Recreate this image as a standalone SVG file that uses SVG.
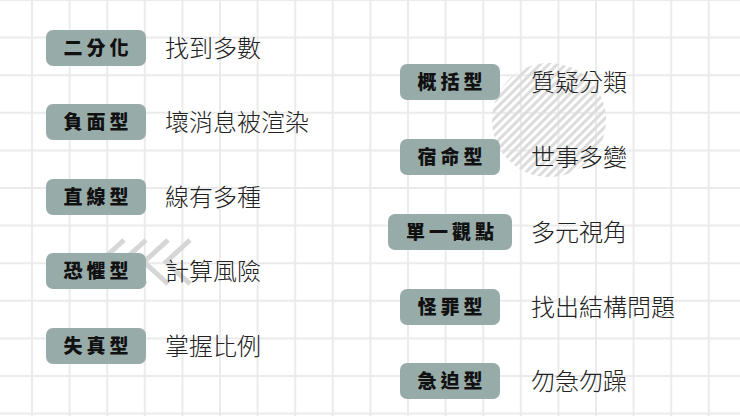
<svg xmlns="http://www.w3.org/2000/svg" width="740" height="416" viewBox="0 0 740 416">
<defs>
<style>
.b{fill:#97aba9}
.k{font-family:"Noto Sans CJK TC",sans-serif;font-weight:900;font-size:19px;fill:#111;text-anchor:middle;letter-spacing:4px}
.d{font-family:"Noto Sans CJK TC",sans-serif;font-weight:300;font-size:24px;fill:#222}
.g{stroke:#ebebeb;stroke-width:2}
</style>
<pattern id="h" width="6" height="6" patternUnits="userSpaceOnUse" patternTransform="rotate(-45)">
<rect width="6" height="3" fill="#dcdcdc"/>
</pattern>
</defs>
<rect width="740" height="416" fill="#fff"/>
<g id="grid" class="g">
<path d="M32 0V416M69.6 0V416M107.2 0V416M144.8 0V416M182.4 0V416M220 0V416M257.6 0V416M295.2 0V416M332.8 0V416M370.4 0V416M408 0V416M445.6 0V416M483.2 0V416M520.8 0V416M558.4 0V416M596 0V416M633.6 0V416M671.2 0V416M708.8 0V416"/>
<path d="M0 0H740M0 37.6H740M0 75.2H740M0 112.8H740M0 150.4H740M0 188H740M0 225.6H740M0 263.2H740M0 300.8H740M0 338.4H740M0 376H740M0 413.6H740"/>
</g>
<circle cx="549" cy="120" r="57" fill="url(#h)"/>
<g fill="none" stroke="#d6d6d6" stroke-width="5">
<path d="M124 240L100 262L124 284M146 240L122 262L146 284M168 240L144 262L168 284M190 240L166 262L190 284"/>
</g>
<g id="n1"><rect class="b" x="46" y="30" width="100" height="36" rx="7"/><text class="k" x="98" y="55">二分化</text><text class="d" x="165" y="57">找到多數</text></g>
<g id="n2"><rect class="b" x="46" y="104" width="100" height="36" rx="7"/><text class="k" x="98" y="129">負面型</text><text class="d" x="165" y="131">壞消息被渲染</text></g>
<g id="n3"><rect class="b" x="46" y="179" width="100" height="36" rx="7"/><text class="k" x="98" y="204">直線型</text><text class="d" x="165" y="206">線有多種</text></g>
<g id="n4"><rect class="b" x="46" y="253" width="100" height="36" rx="7"/><text class="k" x="98" y="278">恐懼型</text><text class="d" x="165" y="280">計算風險</text></g>
<g id="n5"><rect class="b" x="46" y="328" width="100" height="36" rx="7"/><text class="k" x="98" y="353">失真型</text><text class="d" x="165" y="355">掌握比例</text></g>
<g id="n6"><rect class="b" x="400" y="64" width="100" height="36" rx="7"/><text class="k" x="452" y="89">概括型</text><text class="d" x="531" y="91">質疑分類</text></g>
<g id="n7"><rect class="b" x="400" y="139" width="100" height="36" rx="7"/><text class="k" x="452" y="164">宿命型</text><text class="d" x="531" y="166">世事多變</text></g>
<g id="n8"><rect class="b" x="388" y="214" width="124" height="36" rx="7"/><text class="k" x="452" y="239">單一觀點</text><text class="d" x="531" y="241">多元視角</text></g>
<g id="n9"><rect class="b" x="400" y="289" width="100" height="36" rx="7"/><text class="k" x="452" y="314">怪罪型</text><text class="d" x="531" y="316">找出結構問題</text></g>
<g id="n10"><rect class="b" x="400" y="363" width="100" height="36" rx="7"/><text class="k" x="452" y="388">急迫型</text><text class="d" x="531" y="390">勿急勿躁</text></g>
</svg>
